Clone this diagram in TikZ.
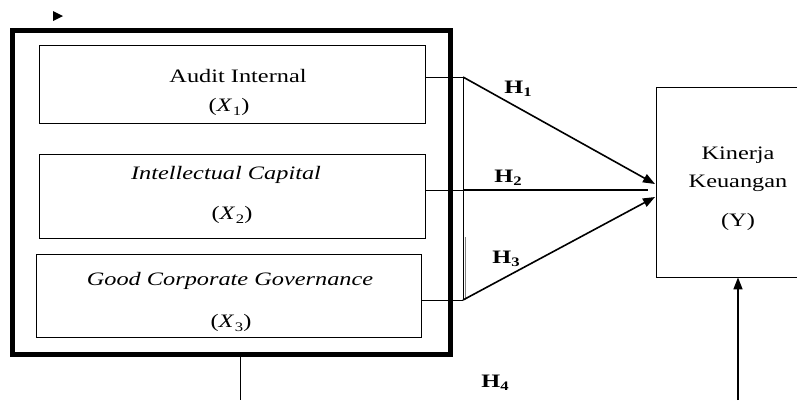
\documentclass[tikz,border=0pt]{standalone}
\usepackage{fontspec}
\setmainfont{Liberation Serif}
\usetikzlibrary{arrows.meta}
\newcommand\wide[1]{\scalebox{1.28}[1]{#1}}
\newcommand\varx[1]{(\textit{X}\kern0.5pt\raisebox{-3.5pt}{\fontsize{13}{13}\selectfont #1})}
\newcommand\hsub[1]{H\raisebox{-3pt}{\fontsize{13}{13}\selectfont\bfseries #1}}
\tikzset{
  thinbox/.style={draw, line width=0.8pt, inner sep=0pt},
  lbl/.style={inner sep=0pt, font=\fontsize{19}{22}\selectfont},
  hlbl/.style={inner sep=0pt, font=\fontsize{19}{22}\selectfont\bfseries},
  conn/.style={line width=0.8pt},
  arr/.style={line width=1.6pt, -{Triangle[length=12pt,width=9pt]}},
  thickline/.style={line width=1.6pt}
}
\begin{document}
\begin{tikzpicture}[x=1pt,y=-1pt]
\useasboundingbox (0,0) rectangle (797,400);
% small arrowhead mark
\fill (53,11) -- (63,16) -- (53,21) -- cycle;
% big thick frame
\node[draw, line width=4.5pt, minimum width=438pt, minimum height=324pt, inner sep=0pt] (frame) at (231.5,192.5) {};
% variable boxes
\node[thinbox, minimum width=386pt, minimum height=78pt] (x1) at (232,84) {};
\node[thinbox, minimum width=386pt, minimum height=84pt] (x2) at (232,196) {};
\node[thinbox, minimum width=385pt, minimum height=83pt] (x3) at (228.5,295.5) {};
\node[lbl] (t1a) at (238,76) {\wide{Audit Internal}};
\node[lbl] (t1b) at (229,107) {\wide{\varx{1}}};
\node[lbl] (t2a) at (226,175) {\wide{\itshape Intellectual Capital}};
\node[lbl] (t2b) at (232,215) {\wide{\varx{2}}};
\node[lbl] (t3a) at (230,281) {\wide{\itshape Good Corporate Governance}};
\node[lbl] (t3b) at (231,323) {\wide{\varx{3}}};
% dependent variable box (cut off at right)
\node[thinbox, minimum width=164pt, minimum height=190pt] (y) at (738,182) {};
\node[lbl] (ya) at (738,155) {\wide{Kinerja}};
\node[lbl] (yb) at (738,183) {\wide{Keuangan}};
\node[lbl] (yc) at (738,222) {\wide{(Y)}};
% junctions
\coordinate (j1) at (463,77);
\coordinate (j2) at (463,190);
\coordinate (j3) at (463,300);
\coordinate (tip1) at (655,184);
\coordinate (tip3) at (655,197);
\coordinate (e2) at (648,190);
\draw[conn] (x1.east |- j1) -- (j1);
\draw[conn] (x2.east |- j2) -- (j2);
\draw[conn] (x3.east |- j3) -- (j3);
\draw[conn] (j1) -- (j3);
\draw[line width=0.6pt, gray] (465.5,237) -- (465.5,300);
\draw[arr] (j1) -- (tip1);
\draw[thickline] (j2) -- (e2);
\draw[arr] (j3) -- (tip3);
% labels
\node[hlbl] (h1) at (518,89) {\wide{\hsub{1}}};
\node[hlbl] (h2) at (508,178) {\wide{\hsub{2}}};
\node[hlbl] (h3) at (506,259) {\wide{\hsub{3}}};
\node[hlbl] (h4) at (495,383) {\wide{\hsub{4}}};
% bottom links
\coordinate (b1) at (240,400);
\coordinate (b2) at (738,400);
\draw[conn] (frame.south -| b1) -- (b1);
\draw[arr] (b2) -- (y.south -| b2);
\end{tikzpicture}
\end{document}
